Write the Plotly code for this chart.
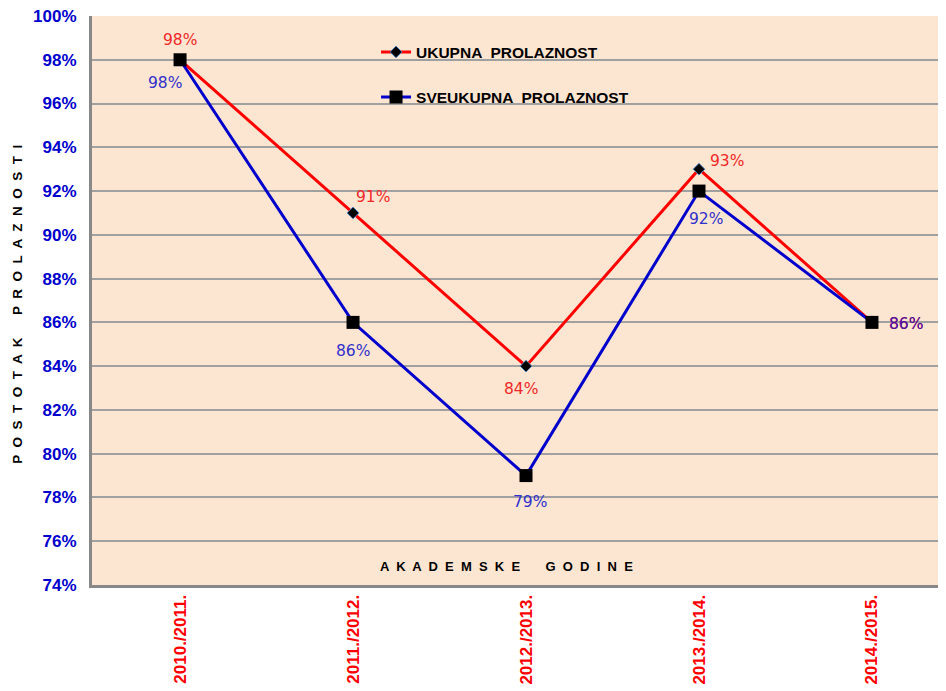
import plotly.graph_objects as go

categories = ["2010./2011.", "2011./2012.", "2012./2013.", "2013./2014.", "2014./2015."]
ukupna = [0.98, 0.91, 0.84, 0.93, 0.86]
sveukupna = [0.98, 0.86, 0.79, 0.92, 0.86]
ukupna_labels = ["98%", "91%", "84%", "93%", "86%"]
sveukupna_labels = ["98%", "86%", "79%", "92%", "86%"]

# label offsets in pixels (style only)
ukupna_shift = [(0, 20), (20, 16), (-5, -23), (28, 8), (34, -2)]
sveukupna_shift = [(-15, -23), (0, -29), (4, -26), (7, -28), (34, -2)]
ukupna_colors = ["#F02828"] * 5
sveukupna_colors = ["#3030CC", "#3030CC", "#3030CC", "#3030CC", "#4A14A8"]

x_idx = list(range(len(categories)))

fig = go.Figure()
fig.add_trace(go.Scatter(
    x=x_idx, y=ukupna, mode="lines+markers",
    name="UKUPNA  PROLAZNOST", legendgroup="a",
    line=dict(color="#FF0000", width=3),
    marker=dict(symbol="diamond", size=9, color="#000000",
                line=dict(color="#4F81BD", width=1)),
))
fig.add_trace(go.Scatter(
    x=x_idx, y=sveukupna, mode="lines+markers",
    name="SVEUKUPNA  PROLAZNOST", legendgroup="b",
    line=dict(color="#0000CC", width=3),
    marker=dict(symbol="square", size=13, color="#000000"),
))

annotations = []
for i, (v, t) in enumerate(zip(ukupna, ukupna_labels)):
    dx, dy = ukupna_shift[i]
    annotations.append(dict(x=x_idx[i], y=v, xref="x", yref="y", text=t,
                            showarrow=False, xshift=dx, yshift=dy,
                            xanchor="center", yanchor="middle",
                            font=dict(family="DejaVu Sans", size=15.5,
                                      color=ukupna_colors[i])))
for i, (v, t) in enumerate(zip(sveukupna, sveukupna_labels)):
    dx, dy = sveukupna_shift[i]
    annotations.append(dict(x=x_idx[i], y=v, xref="x", yref="y", text=t,
                            showarrow=False, xshift=dx, yshift=dy,
                            xanchor="center", yanchor="middle",
                            font=dict(family="DejaVu Sans", size=15.5,
                                      color=sveukupna_colors[i])))

annotations.append(dict(
    text="A  K  A  D  E  M  S  K  E       G  O  D  I  N  E",
    xref="paper", yref="paper", x=0.485, y=0.033,
    xanchor="center", yanchor="middle", showarrow=False,
    font=dict(family="Liberation Sans, Arial", size=13, color="#000000", weight="bold"),
))
annotations.append(dict(
    text="P  O  S  T  O  T  A  K      P  R  O  L  A  Z  N  O  S  T  I",
    xref="paper", yref="paper", x=-0.0867, y=0.494, textangle=-90,
    xanchor="center", yanchor="middle", showarrow=False,
    font=dict(family="Liberation Sans, Arial", size=13.5, color="#000000", weight="bold"),
))

fig.update_layout(
    width=938, height=683,
    margin=dict(l=84, r=0, t=8, b=106, autoexpand=False),
    paper_bgcolor="#FFFFFF",
    plot_bgcolor="#FDE6D1",
    font=dict(family="Liberation Sans, Arial", color="#000000"),
    showlegend=True,
    legend=dict(x=0.3326, y=0.966, xanchor="left", yanchor="top",
                bgcolor="rgba(0,0,0,0)", tracegroupgap=22,
                traceorder="grouped",
                font=dict(family="Liberation Sans, Arial", size=15.5, color="#000000",
                          weight="bold")),
    xaxis=dict(
        tickmode="array", tickvals=x_idx, ticktext=categories,
        range=[-0.509, 4.428], tickangle=-90, automargin=False,
        tickfont=dict(family="Liberation Sans, Arial", size=17, color="#FF0000", weight="bold"),
        showgrid=False, showline=True, linecolor="#888888", linewidth=3,
        ticks="", zeroline=False,
    ),
    yaxis=dict(
        range=[0.74, 1.00], dtick=0.02, tickformat=".0%", automargin=False,
        ticklabeloverflow="allow",
        tickfont=dict(family="Liberation Sans, Arial", size=17, color="#0000CC", weight="bold"),
        showgrid=True, gridcolor="#A0A0A0", gridwidth=1.5,
        showline=True, linecolor="#888888", linewidth=3,
        ticks="outside", ticklen=9, tickcolor="rgba(0,0,0,0)",
        zeroline=False,
    ),
    annotations=annotations,
)

fig.write_html("out.html")
